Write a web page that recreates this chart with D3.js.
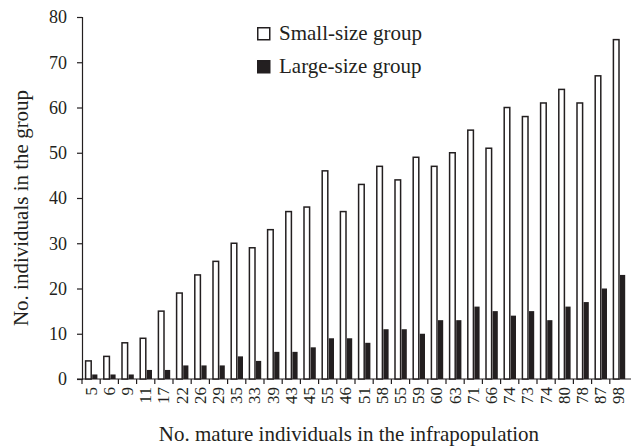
<!DOCTYPE html>
<html>
<head>
<meta charset="utf-8">
<script src="https://cdn.jsdelivr.net/npm/d3@7"></script>
<style>
  body { margin: 0; background: #fff; }
  text { font-family: "Liberation Serif", "Times New Roman", serif; fill: #231f20; }
</style>
</head>
<body>
<svg id="chart" width="631" height="447"></svg>
<script>
// x categories (no. mature individuals), small and large group sizes
var matureCounts = [5, 6, 9, 11, 17, 22, 26, 29, 35, 33, 39, 43, 45, 55, 46, 51, 58, 55, 59, 60, 63, 71, 66, 74, 73, 74, 80, 78, 87, 98];
var smallGroup = [4, 5, 8, 9, 15, 19, 23, 26, 30, 29, 33, 37, 38, 46, 37, 43, 47, 44, 49, 47, 50, 55, 51, 60, 58, 61, 64, 61, 67, 75];
var largeGroup = [1, 1, 1, 2, 2, 3, 3, 3, 5, 4, 6, 6, 7, 9, 9, 8, 11, 11, 10, 13, 13, 16, 15, 14, 15, 13, 16, 17, 20, 23];
var yTicks = [0, 10, 20, 30, 40, 50, 60, 70, 80];
var legendKeys = ["Small-size group", "Large-size group"];

var ink = "#231f20";
var svg = d3.select("#chart");

var idx = d3.range(matureCounts.length);
var x = d3.scaleBand().domain(idx).range([82, 628]).padding(0);
var y = d3.scaleLinear().domain([0, 80]).range([379, 17]);

// y axis
var yAxis = svg.append("g")
    .attr("transform", "translate(82,0)")
    .call(d3.axisLeft(y).tickValues(yTicks).tickSize(5).tickPadding(10));
yAxis.select(".domain").attr("stroke", ink).attr("stroke-width", 1.2);
yAxis.selectAll(".tick line").attr("stroke", ink).attr("stroke-width", 1.2);
yAxis.selectAll(".tick text")
    .style("font-family", "Liberation Serif")
    .style("font-size", "18px")
    .attr("fill", ink);

// x axis, ticks sit on the band edges
var xg = svg.append("g").attr("transform", "translate(0,379)");
xg.append("line")
    .attr("x1", 77).attr("x2", 631)
    .attr("stroke", ink).attr("stroke-width", 1.2);
xg.selectAll(".xtick")
    .data(idx)
    .enter()
    .append("line")
    .attr("x1", function(d){ return x(d) })
    .attr("x2", function(d){ return x(d) })
    .attr("y1", 0).attr("y2", 5)
    .attr("stroke", ink).attr("stroke-width", 1.2);
xg.selectAll(".xlab")
    .data(idx)
    .enter()
    .append("text")
    .attr("transform", function(d){ return "translate(" + (x(d) + x.bandwidth() / 2 + 5.5) + ",8) rotate(-90)" })
    .attr("text-anchor", "end")
    .style("font-size", "17px")
    .text(function(d){ return matureCounts[d] });

// bars
svg.selectAll(".small")
    .data(idx)
    .enter()
    .append("rect")
    .attr("x", function(d){ return x(d) + 3.6 })
    .attr("y", function(d){ return y(smallGroup[d]) })
    .attr("width", 5.6)
    .attr("height", function(d){ return y(0) - y(smallGroup[d]) })
    .attr("fill", "#fff")
    .attr("stroke", ink)
    .attr("stroke-width", 1.5);

svg.selectAll(".large")
    .data(idx)
    .enter()
    .append("rect")
    .attr("x", function(d){ return x(d) + 10.2 })
    .attr("y", function(d){ return y(largeGroup[d]) })
    .attr("width", 5.2)
    .attr("height", function(d){ return y(0) - y(largeGroup[d]) })
    .attr("fill", ink);

// legend
var legend = svg.selectAll(".legend")
    .data(legendKeys)
    .enter()
    .append("g")
    .attr("transform", function(d, i){ return "translate(257," + (27 + i * 33) + ")" });
legend.append("rect")
    .attr("x", 0.75).attr("y", 0.75)
    .attr("width", 12).attr("height", 12)
    .attr("fill", function(d, i){ return i == 0 ? "#fff" : ink })
    .attr("stroke", ink)
    .attr("stroke-width", 1.5);
legend.append("text")
    .attr("x", 22)
    .attr("y", 13)
    .style("font-size", "21px")
    .text(function(d){ return d });

// axis titles
svg.append("text")
    .attr("transform", "translate(28,208) rotate(-90)")
    .attr("text-anchor", "middle")
    .style("font-size", "21px")
    .text("No. individuals in the group");
svg.append("text")
    .attr("x", 349)
    .attr("y", 441)
    .attr("text-anchor", "middle")
    .style("font-size", "21px")
    .text("No. mature individuals in the infrapopulation");
</script>
</body>
</html>
